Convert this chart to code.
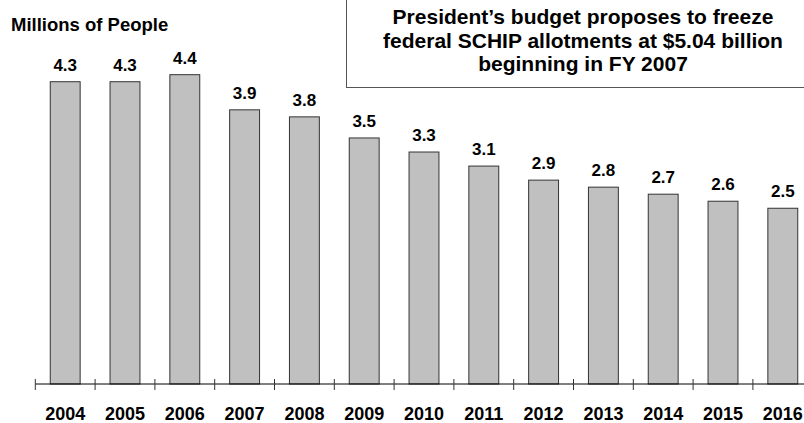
<!DOCTYPE html>
<html>
<head>
<meta charset="utf-8">
<script src="https://cdn.jsdelivr.net/npm/d3@7"></script>
<style>
  body { margin: 0; background: #fff; }
  svg { display: block; font-family: 'Liberation Sans', Arial, sans-serif; font-weight: bold; }
</style>
</head>
<body>
<div id="chart"></div>
<script>
const years = ['2004', '2005', '2006', '2007', '2008', '2009', '2010', '2011', '2012', '2013', '2014', '2015', '2016']
const people = [4.3, 4.3, 4.4, 3.9, 3.8, 3.5, 3.3, 3.1, 2.9, 2.8, 2.7, 2.6, 2.5]
const noteLines = [
  'President\u2019s budget proposes to freeze',
  'federal SCHIP allotments at $5.04 billion',
  'beginning in FY 2007'
]

const width = 804
const height = 423
const baseline = 384

const svg = d3
  .select('#chart')
  .append('svg')
  .attr('width', width)
  .attr('height', height)

const xScale = d3
  .scaleBand()
  .domain(years)
  .range([35.3, 35.3 + 13 * 59.8])
  .paddingInner(0.5)
  .paddingOuter(0.25)

const yScale = d3
  .scaleLinear()
  .domain([0, 5])
  .range([baseline, baseline - 5 * 70.3])

const datapoints = years.map((year, i) => ({ year: year, value: people[i] }))

// bars
svg
  .selectAll('.bar')
  .data(datapoints)
  .enter()
  .append('rect')
  .attr('class', 'bar')
  .attr('x', d => xScale(d.year))
  .attr('y', d => yScale(d.value))
  .attr('width', xScale.bandwidth())
  .attr('height', d => yScale(0) - yScale(d.value))
  .attr('fill', '#c0c0c0')
  .attr('stroke', '#333')
  .attr('stroke-width', 1)

// value labels
svg
  .selectAll('.value-label')
  .data(datapoints)
  .enter()
  .append('text')
  .attr('class', 'value-label')
  .attr('x', d => xScale(d.year) + xScale.bandwidth() / 2)
  .attr('y', d => yScale(d.value) - 11)
  .attr('text-anchor', 'middle')
  .attr('font-size', 17)
  .attr('fill', '#000')
  .text(d => d.value.toFixed(1))

// axis line + ticks between categories
svg
  .append('line')
  .attr('x1', xScale.range()[0])
  .attr('x2', width)
  .attr('y1', baseline)
  .attr('y2', baseline)
  .attr('stroke', '#000')
  .attr('stroke-width', 1)

const tickXs = years.map(y => xScale(y) - xScale.step() * 0.25)

svg
  .selectAll('.tick')
  .data(tickXs)
  .enter()
  .append('line')
  .attr('class', 'tick')
  .attr('x1', d => d)
  .attr('x2', d => d)
  .attr('y1', baseline - 5)
  .attr('y2', baseline + 6)
  .attr('stroke', '#333')
  .attr('stroke-width', 1)

// year labels
svg
  .selectAll('.year-label')
  .data(years)
  .enter()
  .append('text')
  .attr('class', 'year-label')
  .attr('x', d => xScale(d) + xScale.bandwidth() / 2)
  .attr('y', 420)
  .attr('text-anchor', 'middle')
  .attr('font-size', 18)
  .attr('fill', '#000')
  .text(d => d)

// unit title
svg
  .append('text')
  .attr('x', 11)
  .attr('y', 30.5)
  .attr('font-size', 18.5)
  .attr('fill', '#000')
  .text('Millions of People')

// note box
svg
  .append('rect')
  .attr('x', 346.5)
  .attr('y', -2)
  .attr('width', 470)
  .attr('height', 89.5)
  .attr('fill', '#fff')
  .attr('stroke', '#555')
  .attr('stroke-width', 1)

svg
  .selectAll('.note')
  .data(noteLines)
  .enter()
  .append('text')
  .attr('class', 'note')
  .attr('x', 583)
  .attr('y', (d, i) => 24 + i * 23.5)
  .attr('text-anchor', 'middle')
  .attr('font-size', 21)
  .attr('fill', '#000')
  .text(d => d)
</script>
</body>
</html>
